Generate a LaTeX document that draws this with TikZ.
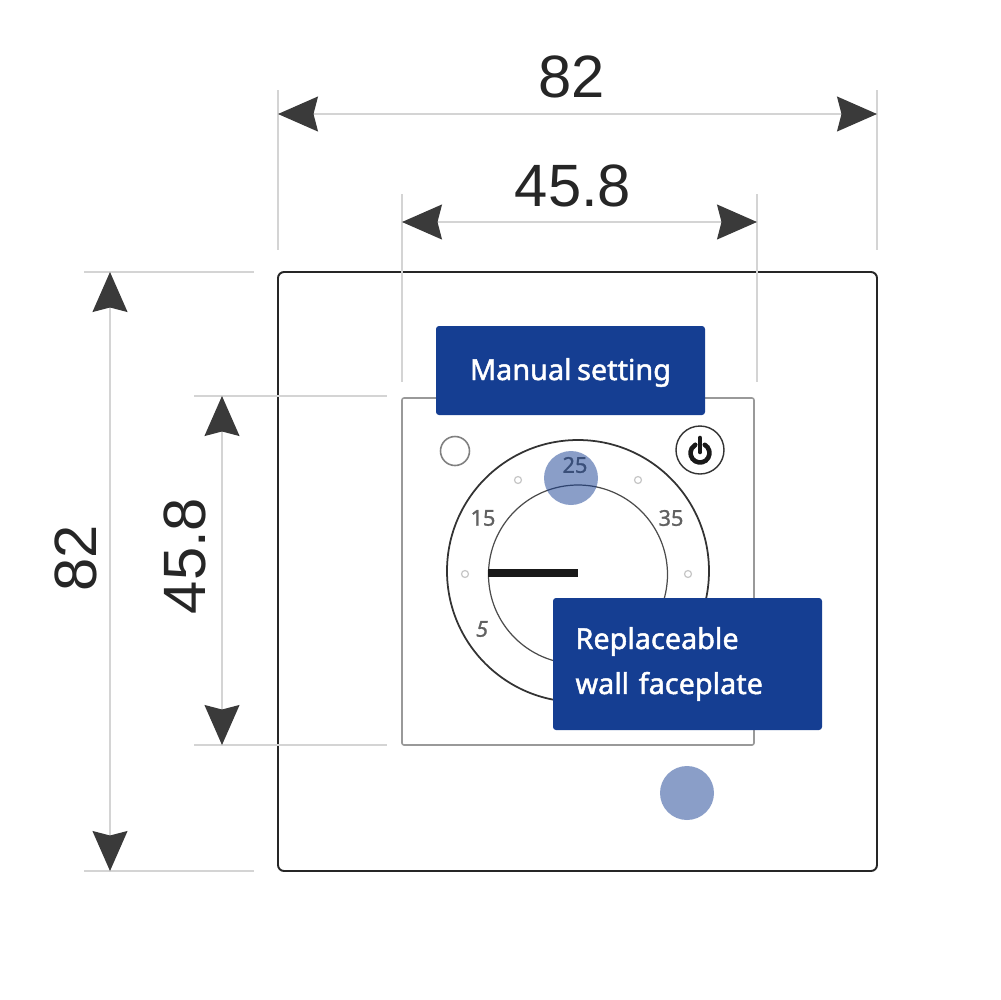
\documentclass[tikz,border=0pt]{standalone}
\usepackage{fontspec}
\setmainfont{Liberation Sans}
\newfontfamily\boxfont[FakeBold=1.6, WordSpace=.75]{Noto Sans}
\newfontfamily\dialfont[FakeBold=1.2]{Noto Sans}
\usetikzlibrary{arrows.meta}
\definecolor{dimgrey}{HTML}{D4D4D4}
\definecolor{tipgrey}{HTML}{3A3A3A}
\definecolor{boxblue}{HTML}{153E92}
\begin{document}
\begin{tikzpicture}[x=.1mm, y=-.1mm,
        dimline/.style={draw=dimgrey, line width=.35pt},
        dimarrow/.style={dimline, {Stealth[length=4mm, width=3.5mm, inset=.45mm, color=tipgrey]}-{Stealth[length=4mm, width=3.5mm, inset=.45mm, color=tipgrey]}},
        dimlabel/.style={font=\fontsize{17}{20}\selectfont, text=black!85, inner sep=0pt},
        bluebox/.style={fill=boxblue, text=white, rounded corners=.3mm, inner sep=0pt, font=\boxfont\fontsize{8.2}{12.8}\selectfont},
        bluedot/.style={circle, fill=boxblue, opacity=.5, minimum size=5.4mm, inner sep=0pt},
        dialnum/.style={font=\dialfont\fontsize{6.2}{7}\selectfont, text=black!62, inner sep=0pt},
        dialhole/.style={circle, draw=black!22, line width=.35pt, minimum size=.7mm, inner sep=0pt}]
        \useasboundingbox (0, 0) rectangle (1000, 1000);

        % housing and faceplate
        \draw (577.5, 571.5) node[draw=black!85, line width=.55pt, rounded corners=.6mm, minimum size=59.9mm, inner sep=0pt] (housing) {};
        \draw (578, 571.5) node[draw=black!40, line width=.45pt, rounded corners=.2mm, minimum width=35.2mm, minimum height=34.7mm, inner sep=0pt] (faceplate) {};

        % dial
        \draw (578, 571) node[draw=black!80, circle, line width=.5pt, minimum size=26.2mm, inner sep=0pt] (outerdial) {};
        \draw (578, 574.5) node[draw=black!70, circle, line width=.35pt, minimum size=17.9mm, inner sep=0pt] (innerdial) {};
        \draw (575, 465) node[dialnum] (t25) {25};
        \draw (483, 518) node[dialnum] (t15) {15};
        \draw (671, 518) node[dialnum] (t35) {35};
        \draw (482, 629) node[dialnum, font=\dialfont\fontsize{6.2}{7}\selectfont\itshape] (t5) {5};
        \foreach \px/\py/\hname in {518/480/ha, 638/480/hb, 465/574/hc, 688/574/hd}
            \draw (\px, \py) node[dialhole] (\hname) {};
        \draw (488, 573) coordinate (needlea);
        \draw (578, 573) coordinate (needleb);
        \draw[line width=2pt, black!90] (needlea) -- (needleb);

        % lamp and power key
        \draw (455, 451) node[draw=black!50, circle, line width=.45pt, minimum size=2.9mm, inner sep=0pt] (lamp) {};
        \draw (700, 450) node[draw=black!80, circle, line width=.4pt, minimum size=4.8mm, inner sep=0pt] (power) {};
        \draw[line width=1.3pt, black!90, line cap=round] ([shift={(-60:9.5)}]700, 453) arc[start angle=-60, end angle=240, radius=9.5];
        \draw (700, 438) coordinate (powera);
        \draw (700, 452) coordinate (powerb);
        \draw[line width=1.3pt, black!90, line cap=round] (powera) -- (powerb);

        % extension lines
        \draw (278, 90) coordinate (e1a);  \draw (278, 250) coordinate (e1b);
        \draw (877, 90) coordinate (e2a);  \draw (877, 250) coordinate (e2b);
        \draw (402, 194) coordinate (e3a); \draw (402, 382) coordinate (e3b);
        \draw (757, 194) coordinate (e4a); \draw (757, 382) coordinate (e4b);
        \draw (84, 272) coordinate (e5a);  \draw (254, 272) coordinate (e5b);
        \draw (84, 871) coordinate (e6a);  \draw (254, 871) coordinate (e6b);
        \draw (194, 396) coordinate (e7a); \draw (387, 396) coordinate (e7b);
        \draw (194, 745) coordinate (e8a); \draw (387, 745) coordinate (e8b);
        \foreach \k in {1, ..., 8}
            \draw[dimline] (e\k a) -- (e\k b);

        % dimensions
        \draw (278, 114) coordinate (d1a); \draw (877, 114) coordinate (d1b);
        \draw (402, 222) coordinate (d2a); \draw (757, 222) coordinate (d2b);
        \draw (110, 272) coordinate (d3a); \draw (110, 871) coordinate (d3b);
        \draw (222, 396) coordinate (d4a); \draw (222, 745) coordinate (d4b);
        \foreach \k in {1, ..., 4}
            \draw[dimarrow] (d\k a) -- (d\k b);
        \draw (572, 77) node[dimlabel] (w1) {82};
        \draw (573, 186) node[dimlabel] (w2) {45.8};
        \draw (76, 558) node[dimlabel, rotate=90] (h1) {82};
        \draw (185, 556) node[dimlabel, rotate=90] (h2) {45.8};

        % callouts
        \draw (570.5, 370.5) node[bluebox, minimum width=26.9mm, minimum height=8.9mm] (manual) {\raisebox{-.95mm}[0pt][0pt]{Manual setting}};
        \draw (687.5, 664) node[bluebox, minimum width=26.9mm, minimum height=13.2mm, align=left, text width=22.4mm] (wall) {Replaceable\\wall faceplate};
        \draw (571, 478) node[bluedot] (dota) {};
        \draw (687, 793) node[bluedot] (dotb) {};
    \end{tikzpicture}
\end{document}
